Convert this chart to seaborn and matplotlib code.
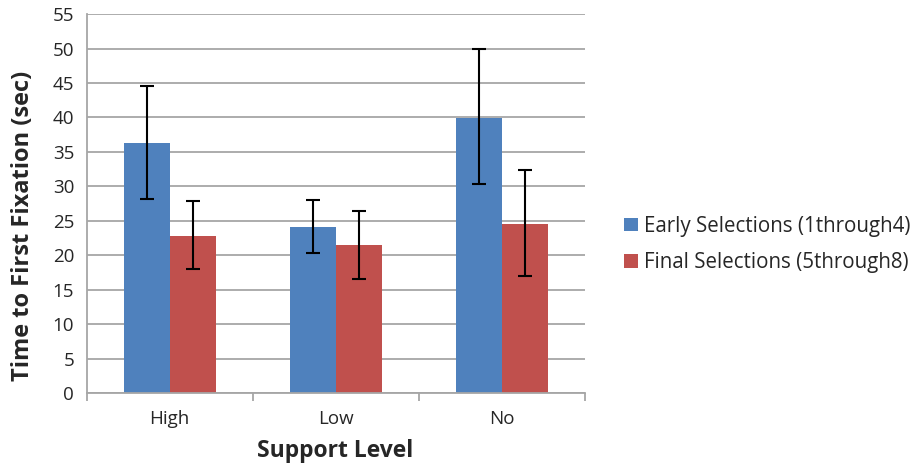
import seaborn as sns
import pandas as pd
import numpy as np
import matplotlib.pyplot as plt
from matplotlib.patches import Patch

levels = ['High', 'Low', 'No']
series = ['Early Selections (1through4)', 'Final Selections (5through8)']
early = [36.3, 24.1, 39.9]
final = [22.8, 21.5, 24.6]
early_lo = [28.2, 20.3, 30.3]
early_hi = [44.6, 28.0, 49.9]
final_lo = [18.0, 16.6, 17.0]
final_hi = [27.9, 26.4, 32.3]
colors = ['#4F81BD', '#C0504D']

df = pd.DataFrame({
    'Support Level': levels * 2,
    'Time': early + final,
    'Series': [series[0]] * 3 + [series[1]] * 3,
})

sns.set_style('white')
plt.rcParams['font.family'] = ['Open Sans', 'DejaVu Sans']

fig = plt.figure(figsize=(9.22, 4.68), dpi=100)
ax = fig.add_axes([0.094, 0.160, 0.540, 0.810])

sns.barplot(data=df, x='Support Level', y='Time', hue='Series',
            palette=colors, width=0.555, errorbar=None, saturation=1,
            linewidth=0, ax=ax, zorder=2)

# error bars on top of each bar
lows = [early_lo, final_lo]
highs = [early_hi, final_hi]
vals = [early, final]
bar_conts = list(ax.containers)
for i, cont in enumerate(bar_conts):
    xs = [p.get_x() + p.get_width() / 2 for p in cont.patches]
    v = np.array(vals[i])
    yerr = [v - np.array(lows[i]), np.array(highs[i]) - v]
    ax.errorbar(xs, v, yerr=yerr, fmt='none', ecolor='black',
                elinewidth=1.5, capsize=5, capthick=1.5, zorder=3)

ax.set_ylim(0, 55)
ax.set_xlim(-0.5, 2.5)
ax.set_yticks(np.arange(0, 56, 5))
ax.yaxis.grid(True, color='#A6A6A6', linewidth=1.3, zorder=0)
ax.set_axisbelow(True)
for s in ['top', 'right']:
    ax.spines[s].set_visible(False)
for s in ['left', 'bottom']:
    ax.spines[s].set_color('#A6A6A6')
    ax.spines[s].set_linewidth(1.3)

ax.set_xticks([-0.5, 0.5, 1.5, 2.5], minor=True)
ax.tick_params(axis='x', which='minor', length=6, color='#A6A6A6', width=1.3, direction='out')
ax.tick_params(axis='x', which='major', length=0, labelsize=13.5, pad=12)
ax.tick_params(axis='y', length=6, color='#A6A6A6', width=1.3, direction='out',
               labelsize=13.5, pad=3)
ax.xaxis.set_tick_params(bottom=True, which='minor')

ax.set_xlabel('Support Level', fontsize=16.5, fontweight='bold', labelpad=8)
ax.set_ylabel('Time to First Fixation (sec)', fontsize=17, fontweight='bold')
ax.yaxis.set_label_coords(-0.104, 0.44)

ax.get_legend().remove()
handles = [Patch(facecolor=c, edgecolor='none') for c in colors]
fig.legend(handles, series, loc='center left', bbox_to_anchor=(0.657, 0.478),
           frameon=False, fontsize=14.8, handlelength=0.65, handleheight=0.65,
           handletextpad=0.3, labelspacing=0.75)

fig.savefig('out.png', dpi=100)
